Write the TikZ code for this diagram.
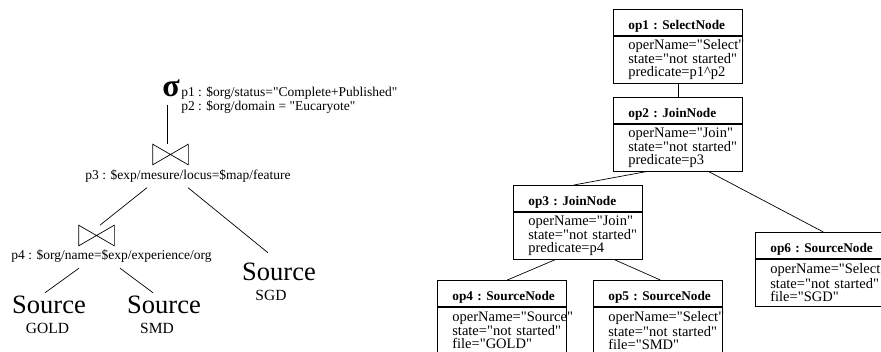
\documentclass[tikz,border=0pt]{standalone}
\usepackage{fontspec}
\setmainfont{Liberation Serif}[Ligatures=TeXOff]
\usetikzlibrary{calc,positioning}

\newcommand{\opbodyfont}{\fontsize{14.5}{13}\selectfont\hyphenpenalty=10000\relax\exhyphenpenalty=10000\relax}
\newcommand{\optitlefont}{\bfseries\fontsize{13.3}{14}\selectfont\hyphenpenalty=10000\relax}

\begin{document}
\begin{tikzpicture}[x=1pt, y=-1pt, line width=0.7pt,
    pred/.style={inner sep=0pt, font=\fontsize{13.5}{14}\selectfont},
    joinsym/.style={minimum width=35pt, minimum height=20pt, inner sep=0pt},
    src/.style={inner sep=0pt, font=\fontsize{26.5}{28}\selectfont},
    srcname/.style={inner sep=0pt, font=\fontsize{15.5}{16}\selectfont},
    optitle/.style={draw, anchor=north west, text width=99pt, inner xsep=15pt, inner ysep=0pt,
        text height=20.5pt, text depth=5.5pt, align=left, font=\optitlefont},
    opbody/.style={draw, anchor=north, text width=99pt, inner xsep=15pt, inner ysep=0pt,
        minimum height=47pt, align=left, font=\opbodyfont}]

                \clip (0,0) rectangle (881,351);

                % Algebra tree
                \node[inner sep=0pt, font=\bfseries\fontsize{32}{32}\selectfont] (sel) at (171, 88) {σ};
                \node[pred, anchor=north west, align=left] (predsel) at (181, 86) {p1 : \$org/status="Complete+Published"\\p2 : \$org/domain = "Eucaryote"};
                \node[joinsym] (j1) at (170.5, 154.5) {};
                \node[pred] (predj1) at (188, 176) {p3 : \$exp/mesure/locus=\$map/feature};
                \node[joinsym] (j2) at (96.5, 235.5) {};
                \node[pred] (predj2) at (111.5, 256.5) {p4 : \$org/name=\$exp/experience/org};

                \node[src] (gold) at (49, 305) {Source};
                \node[srcname] (goldname) at (47.5, 328.5) {GOLD};
                \node[src] (smd) at (164, 305) {Source};
                \node[srcname] (smdname) at (157, 328.5) {SMD};
                \node[src] (sgd) at (279, 271.5) {Source};
                \node[srcname] (sgdname) at (271, 295) {SGD};

                \draw (j1.north west) -- (j1.south east) -- (j1.north east) -- (j1.south west) -- cycle;
                \draw (j2.north west) -- (j2.south east) -- (j2.north east) -- (j2.south west) -- cycle;

                \draw ([shift={(-4,8)}]sel.south) -- ([xshift=-3.5pt]j1.north);
                \draw ([shift={(-41,5)}]predj1.south) -- ([xshift=3.5pt]j2.north);
                \draw ([shift={(0,5)}]predj1.south) -- ([shift={(-11,-9.5)}]sgd.north);
                \draw ([shift={(-32.5,5)}]predj2.south) -- ([shift={(-4,-3)}]gold.north);
                \draw ([shift={(8.5,5)}]predj2.south) -- ([shift={(-11,-3)}]smd.north);

                % Operator objects
                \node[optitle] (op1t) at (613, 9) {op1~:~SelectNode};
                \node[opbody] (op1b) at (op1t.south) {operName="Select"\\state="not~started"\\predicate=p1\textasciicircum p2};
                \node[optitle] (op2t) at (613, 97) {op2~:~JoinNode};
                \node[opbody] (op2b) at (op2t.south) {operName="Join"\\state="not~started"\\predicate=p3};
                \node[optitle] (op3t) at (513, 185) {op3~:~JoinNode};
                \node[opbody] (op3b) at (op3t.south) {operName="Join"\\state="not~started"\\predicate=p4};
                \node[optitle] (op4t) at (437, 280) {op4~:~SourceNode};
                \node[opbody] (op4b) at (op4t.south) {operName="Source"\\state="not~started"\\file="GOLD"};
                \node[optitle] (op5t) at (593, 280) {op5~:~SourceNode};
                \node[opbody] (op5b) at (op5t.south) {operName="Select"\\state="not~started"\\file="SMD"};
                \node[optitle] (op6t) at (755, 232) {op6~:~SourceNode};
                \node[opbody] (op6b) at (op6t.south) {operName="Select"\\state="not~started"\\file="SGD"};

                \draw (op1b.south) -- (op2t.north);
                \draw ([xshift=-30.5pt]op2b.south) -- ([xshift=-4pt]op3t.north);
                \draw ([xshift=30.5pt]op2b.south) -- ([xshift=3.5pt]op6t.north);
                \draw ([xshift=-22pt]op3b.south) -- ([xshift=5.5pt]op4t.north);
                \draw ([xshift=36pt]op3b.south) -- ([xshift=2.5pt]op5t.north);

            \end{tikzpicture}
\end{document}
